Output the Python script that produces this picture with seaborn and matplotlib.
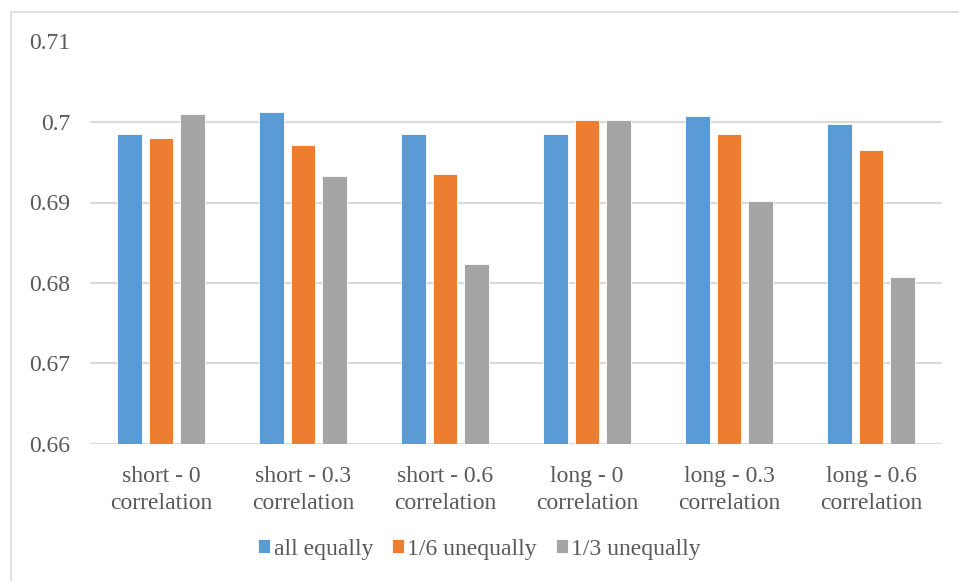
import matplotlib
matplotlib.use("Agg")
import matplotlib.pyplot as plt
from matplotlib.patches import Rectangle
import seaborn as sns
import pandas as pd

categories = ["short - 0\ncorrelation", "short - 0.3\ncorrelation", "short - 0.6\ncorrelation",
              "long - 0\ncorrelation", "long - 0.3\ncorrelation", "long - 0.6\ncorrelation"]
series_names = ["all equally", "1/6 unequally", "1/3 unequally"]
all_equally = [0.6985, 0.7012, 0.6985, 0.6985, 0.7008, 0.6998]
unequal_1_6 = [0.6980, 0.6971, 0.6935, 0.7003, 0.6985, 0.6965]
unequal_1_3 = [0.7010, 0.6933, 0.6824, 0.7003, 0.6902, 0.6808]
yticks = [0.66, 0.67, 0.68, 0.69, 0.70, 0.71]
ytick_labels = ["0.66", "0.67", "0.68", "0.69", "0.7", "0.71"]
colors = ["#5B9BD5", "#ED7D31", "#A5A5A5"]

rows = []
for name, vals in zip(series_names, [all_equally, unequal_1_6, unequal_1_3]):
    for cat, v in zip(categories, vals):
        rows.append({"category": cat, "series": name, "value": v})
df = pd.DataFrame(rows)

sns.set_theme(style="white")
plt.rcParams["font.family"] = ["Liberation Serif", "DejaVu Serif"]
text_color = "#595959"

fig = plt.figure(figsize=(9.59, 5.81), dpi=100)
ax = fig.add_axes([90 / 959, 1 - 444 / 581, (942 - 90) / 959, (444 - 41.5) / 581])

sns.barplot(data=df, x="category", y="value", hue="series", order=categories,
            hue_order=series_names, palette=colors, saturation=1, width=0.667, gap=0.21,
            edgecolor="white", linewidth=0.6, ax=ax, legend=True)

ax.set_ylim(0.66, 0.71)
ax.set_xlim(-0.5, len(categories) - 0.5)
ax.set_yticks(yticks)
ax.set_yticklabels(ytick_labels)
ax.yaxis.grid(True, color="#D9D9D9", linewidth=1.5)
ax.set_axisbelow(True)
for s in ax.spines.values():
    s.set_visible(False)
ax.tick_params(axis="both", length=0, labelsize=17, colors=text_color)
ax.tick_params(axis="y", pad=14)
ax.tick_params(axis="x", pad=16)
for lbl in ax.get_xticklabels():
    lbl.set_linespacing(1.35)
ax.set_xlabel("")
ax.set_ylabel("")

handles, labels = ax.get_legend_handles_labels()
ax.legend_.remove()
leg = fig.legend(handles, labels, loc="center", bbox_to_anchor=(0.5, 1 - 549 / 581),
                 ncol=3, frameon=False, fontsize=17, handlelength=0.5, handleheight=0.5,
                 handletextpad=0.15, columnspacing=0.8)
for t in leg.get_texts():
    t.set_color(text_color)

# chart area border
fig.patches.append(Rectangle((10.5 / 959, -0.1), 1.1, 1 - 12.5 / 581 + 0.1,
                             transform=fig.transFigure, fill=False,
                             edgecolor="#D9D9D9", linewidth=1.2, zorder=0))

fig.savefig("out.png", dpi=100, facecolor="white")
